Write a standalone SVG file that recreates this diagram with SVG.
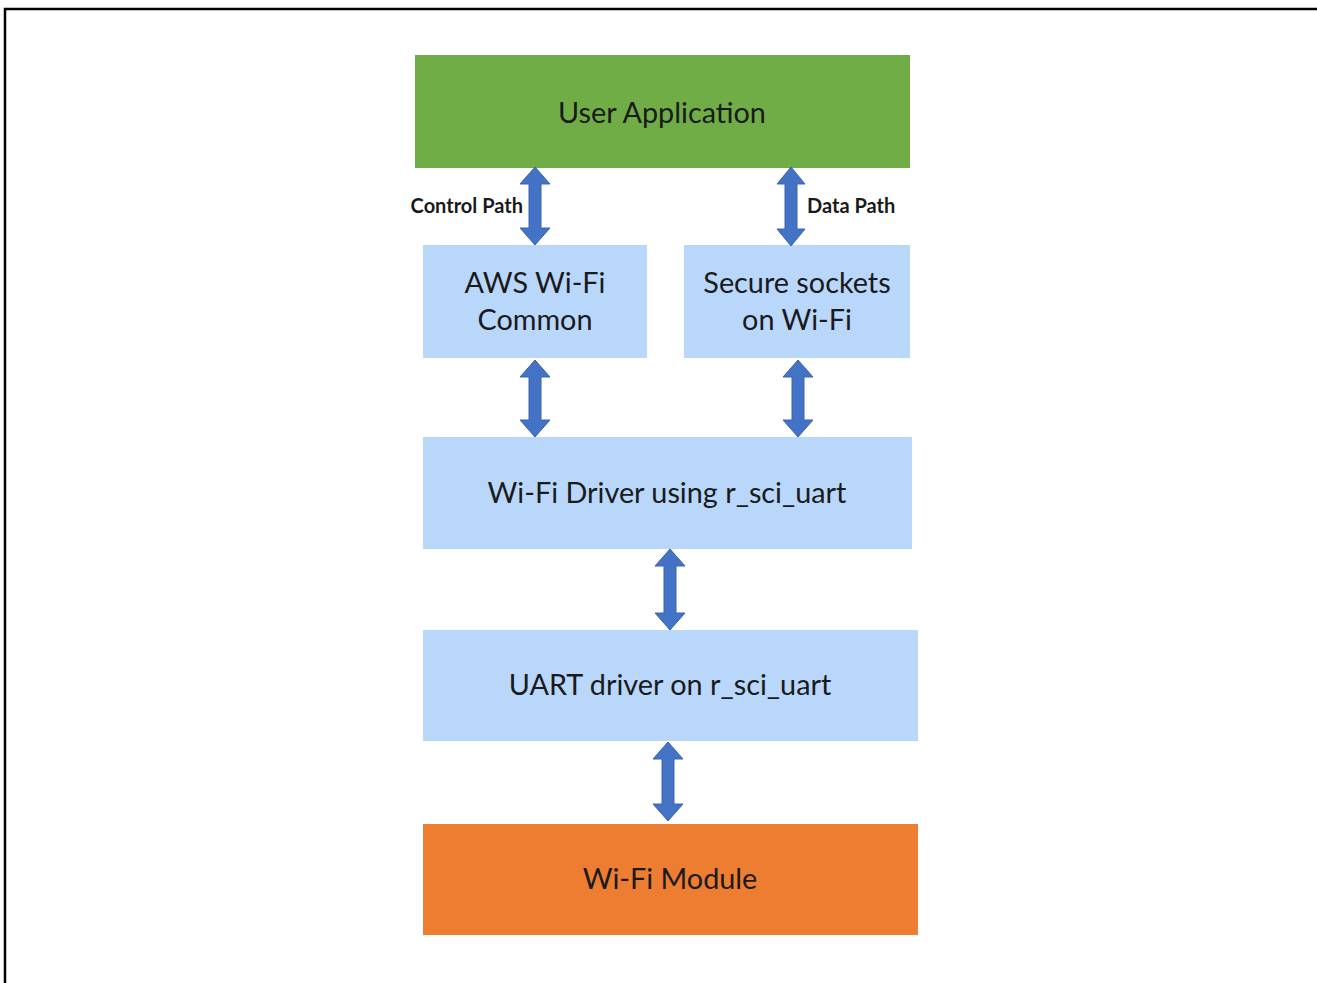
<svg xmlns="http://www.w3.org/2000/svg" width="1317" height="983" viewBox="0 0 1317 983">
<style>
.box-blue{fill:#B9D7FB}
.t{font-family:Lato,"Liberation Sans",sans-serif;font-size:28.8px;fill:#1a1a1a;text-anchor:middle}
.lbl{font-family:Lato,"Liberation Sans",sans-serif;font-size:20px;font-weight:bold;fill:#1a1a1a}
.arr{fill:#4472C4;stroke:#3A64B0;stroke-width:1}
</style>
<rect width="1317" height="983" fill="#fff"/>
<path d="M5,983 V9 H1317" fill="none" stroke="#000" stroke-width="2.5"/>
<g id="user-app"><rect x="415" y="55" width="495" height="113" fill="#70AD47"/><text class="t" x="662" y="123">User Application</text></g>
<g id="aws-wifi"><rect class="box-blue" x="423" y="245" width="224" height="113"/><text class="t" x="535" y="293">AWS Wi-Fi</text><text class="t" x="535" y="330">Common</text></g>
<g id="secure-sockets"><rect class="box-blue" x="684" y="245" width="226" height="113"/><text class="t" x="797" y="293">Secure sockets</text><text class="t" x="797" y="330">on Wi-Fi</text></g>
<g id="wifi-driver"><rect class="box-blue" x="423" y="437" width="489" height="112"/><text class="t" x="667" y="503">Wi-Fi Driver using r_sci_uart</text></g>
<g id="uart-driver"><rect class="box-blue" x="423" y="630" width="495" height="111"/><text class="t" x="670" y="695">UART driver on r_sci_uart</text></g>
<g id="wifi-module"><rect x="423" y="824" width="495" height="111" fill="#ED7D31"/><text class="t" x="670" y="889">Wi-Fi Module</text></g>
<g id="connectors">
<path class="arr" d="M535,167 L550,184 L541,184 L541,228 L550,228 L535,245 L520,228 L529,228 L529,184 L520,184 Z"/>
<path class="arr" d="M791,167 L805,184 L797,184 L797,229 L805,229 L791,246 L777,229 L785,229 L785,184 L777,184 Z"/>
<path class="arr" d="M535,360 L550,377 L541,377 L541,420 L550,420 L535,437 L520,420 L529,420 L529,377 L520,377 Z"/>
<path class="arr" d="M798,360 L813,377 L804,377 L804,420 L813,420 L798,437 L783,420 L792,420 L792,377 L783,377 Z"/>
<path class="arr" d="M670,549 L685,566 L676,566 L676,613 L685,613 L670,630 L655,613 L664,613 L664,566 L655,566 Z"/>
<path class="arr" d="M668,742 L683,759 L674,759 L674,804 L683,804 L668,821 L653,804 L662,804 L662,759 L653,759 Z"/>
<text class="lbl" x="523" y="213" text-anchor="end">Control Path</text>
<text class="lbl" x="807" y="213">Data Path</text>
</g>
</svg>
